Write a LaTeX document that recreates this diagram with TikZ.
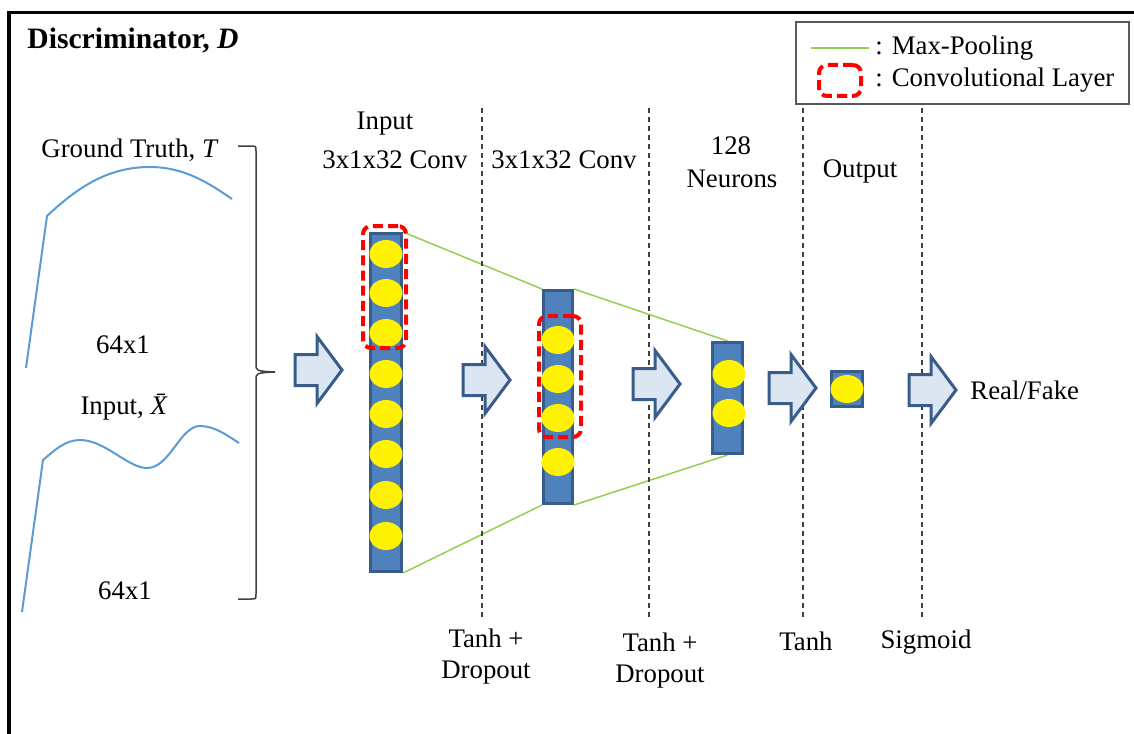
\documentclass[tikz,border=0pt]{standalone}
\usepackage{fontspec}
\setmainfont{Liberation Serif}
\usetikzlibrary{shapes.geometric,backgrounds}

\definecolor{colfill}{HTML}{4F81BD}
\definecolor{colborder}{HTML}{385D8A}
\definecolor{arrowfill}{HTML}{DCE6F2}
\definecolor{poolgreen}{HTML}{92D050}
\definecolor{curveblue}{HTML}{5B9BD5}
\definecolor{convred}{HTML}{FF0000}
\definecolor{guide}{HTML}{404040}

\begin{document}
\begin{tikzpicture}[x=0.5pt,y=-0.5pt,
  font=\fontsize{13.4}{16}\selectfont,
  lbl/.style={anchor=base,inner sep=0},
  column/.style={draw=colborder,fill=colfill,line width=1.5pt,inner sep=0},
  unit/.style={ellipse,fill=yellow,draw=none,inner sep=0,minimum width=16.5pt,minimum height=14pt},
  convbox/.style={draw=convred,line width=2pt,dash pattern=on 5pt off 2.6pt,rounded corners=4pt,inner sep=0},
  pool/.style={draw=poolgreen,line width=0.75pt},
  guideline/.style={draw=guide,line width=0.6pt,dash pattern=on 2.5pt off 2pt},
  signal/.style={draw=curveblue,line width=1pt},
  blockarrow/.pic={\filldraw[fill=arrowfill,draw=colborder,line width=1.5pt,line join=miter]
     (0,-15.5) -- (22,-15.5) -- (22,-33.5) -- (47,0) -- (22,33.5) -- (22,15.5) -- (0,15.5) -- cycle;}
]
\useasboundingbox (0,0) rectangle (1134,733);

% outer frame
\draw[line width=1.75pt] (9,760) -- (9,12.5) -- (1160,12.5);

% title
\node[lbl,anchor=base west] (title) at (27,49) {\fontsize{14.8}{17}\selectfont\bfseries Discriminator, \textit{D}};

% legend
\node[draw=black!65,line width=0.6pt,minimum width=166.5pt,minimum height=41pt,inner sep=0] (legend) at (962.5,63) {};
\coordinate (lg1) at (811,48);
\coordinate (lg2) at (869,48);
\draw[pool] (lg1) -- (lg2);
\node[lbl,anchor=base west] (lgt1) at (875,55) {: Max-Pooling};
\node[convbox,minimum width=21pt,minimum height=15.5pt] (lgbox) at (840,80.5) {};
\node[lbl,anchor=base west] (lgt2) at (875,87) {: Convolutional Layer};

% input signals
\node[lbl] (gt) at (130,157) {Ground Truth, \textit{T}};
\draw[signal] (26,368) -- (47,216) .. controls (80,185) and (110,167) .. (150,167)
   .. controls (185,167) and (210,184) .. (232,199);
\node[lbl] (dimA) at (123,353) {64x1};
\node[lbl] (inx) at (127,414) {Input, \textit{\={X}}};
\draw[signal] (22,612) -- (43,460) .. controls (55,450) and (65,440) .. (80,440)
   .. controls (105,440) and (128,468) .. (147,468)
   .. controls (170,468) and (180,426) .. (200,426)
   .. controls (215,426) and (228,436) .. (239,443);
\node[lbl] (dimB) at (125,599) {64x1};

% brace joining the two inputs
\draw[draw=guide,line width=0.75pt] (238,146) -- (251,146) .. controls (256,146) .. (256,151)
   -- (256,364) .. controls (256,371) .. (275,372) .. controls (256,373) .. (256,380)
   -- (256,594) .. controls (256,599) .. (251,599) -- (238,599);

% layer separators
\foreach \gx/\gn in {482/g1,649/g2,803/g3,922/g4}{
  \coordinate (\gn top) at (\gx,108);
  \coordinate (\gn bot) at (\gx,617);
  \draw[guideline] (\gn top) -- (\gn bot);
}

% column headers
\node[lbl] (h1a) at (385,129) {Input};
\node[lbl] (h1b) at (395,168) {3x1x32 Conv};
\node[lbl] (h2) at (564,168) {3x1x32 Conv};
\node[lbl] (h3a) at (731,155) {128};
\node[lbl] (h3b) at (732,187) {Neurons};
\node[lbl] (h4) at (860,177) {Output};

% activations
\node[lbl] (act1) at (486,647) {Tanh +};
\node[lbl] (act1b) at (486,678) {Dropout};
\node[lbl] (act2) at (660,651) {Tanh +};
\node[lbl] (act2b) at (660,682) {Dropout};
\node[lbl] (act3) at (806,650) {Tanh};
\node[lbl] (act4) at (926,648) {Sigmoid};

% columns of units
\node[column,minimum width=15.5pt,minimum height=169pt] (c1) at (386,402.5) {};
\node[column,minimum width=14.5pt,minimum height=106.5pt] (c2) at (558,397) {};
\node[column,minimum width=15pt,minimum height=55.5pt] (c3) at (727.5,398) {};
\node[column,minimum width=15.5pt,minimum height=17.5pt] (c4) at (847,389) {};

\foreach \uy [count=\i] in {254,293,333,374,414,454,495,536}
  \node[unit] (u1\i) at (386,\uy) {};
\foreach \uy [count=\i] in {340,379,418,462}
  \node[unit] (u2\i) at (558,\uy) {};
\foreach \uy [count=\i] in {374,413}
  \node[unit] (u3\i) at (729,\uy) {};
\node[unit] (u41) at (847,389) {};

% convolution windows
\node[convbox,minimum width=21.5pt,minimum height=61pt] (k1) at (384.5,287) {};
\node[convbox,minimum width=21pt,minimum height=60.5pt] (k2) at (560,376.5) {};

% pooling funnels
\begin{pgfonlayer}{background}
  \draw[pool] (c1.north east) -- (c2.north west);
  \draw[pool] (c1.south east) -- (c2.south west);
  \draw[pool] (c2.north east) -- (c3.north);
  \draw[pool] (c2.south east) -- (c3.south);
\end{pgfonlayer}

% flow arrows
\pic (f1) at (295,370) {blockarrow};
\pic (f2) at (463,380) {blockarrow};
\pic (f3) at (633,384) {blockarrow};
\pic (f4) at (769,388) {blockarrow};
\pic (f5) at (909,390) {blockarrow};

\node[lbl,anchor=base west] (out) at (970,399) {Real/Fake};
\end{tikzpicture}
\end{document}
